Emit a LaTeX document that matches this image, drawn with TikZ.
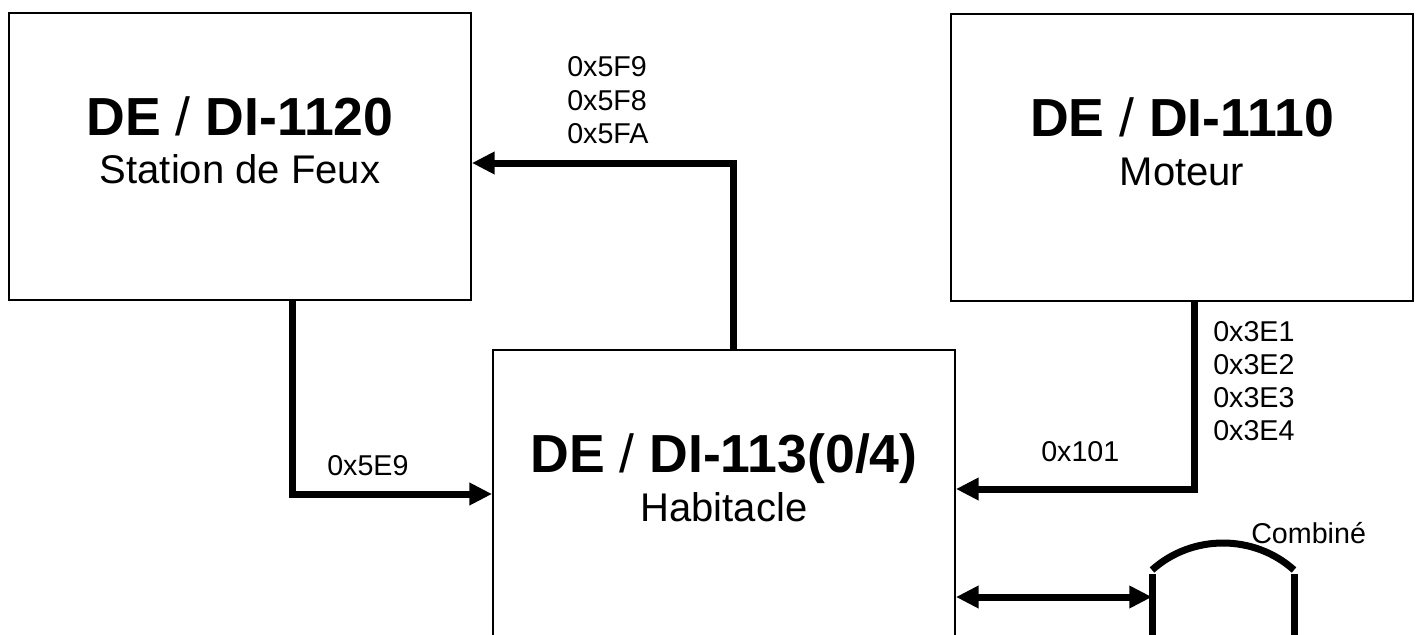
\documentclass[tikz,border=0pt]{standalone}
\usepackage{fontspec}
\setmainfont{Liberation Sans}
\usetikzlibrary{arrows.meta}
\begin{document}
\begin{tikzpicture}[x=0.75pt,y=-0.75pt,
  box/.style={draw=black, line width=1.4pt, inner sep=0pt,
    minimum width=346.5pt, minimum height=215.25pt},
  title/.style={anchor=base, inner sep=0pt, font=\fontsize{40.2pt}{44pt}\selectfont},
  sub/.style={anchor=base, inner sep=0pt, font=\fontsize{30pt}{34pt}\selectfont},
  lbl/.style={anchor=base west, inner sep=0pt, font=\fontsize{21.5pt}{25pt}\selectfont},
  conn/.style={line width=5.25pt, -{Triangle[length=17pt,width=16pt]}},
  dconn/.style={line width=5.25pt, {Triangle[length=17pt,width=16pt]}-{Triangle[length=17pt,width=16pt]}},
  thickline/.style={line width=5.25pt}]
\useasboundingbox (0,0) rectangle (1417,635);
\clip (0,0) rectangle (1417,635);
% boxes
\node[box] (A) at (240,156.5) {};
\node[box] (B) at (1182,157.5) {};
\node[box] (C) at (724,493.5) {};
% box texts
\node[title] (At) at (240,135) {\textbf{DE} / \textbf{DI-1120}};
\node[sub] (As) at (240,183) {Station de Feux};
\node[title] (Bt) at (1182,137) {\textbf{DE} / \textbf{DI-1110}};
\node[sub] (Bs) at (1182,185) {Moteur};
\node[title] (Ct) at (724,472) {\textbf{DE} / \textbf{DI-113(0/4)}};
\node[sub] (Cs) at (724,521) {Habitacle};
% helper coordinates
\coordinate (x1) at (733,0);
\coordinate (y1) at (0,163);
\coordinate (x2) at (292,0);
\coordinate (y2) at (0,494);
\coordinate (x3) at (1194,0);
\coordinate (y3) at (0,489);
% connectors
\draw[conn] (C.north -| x1) |- (A.east |- y1);
\draw[conn] (A.south -| x2) |- (C.west |- y2);
\draw[conn] (B.south -| x3) |- (C.east |- y3);
% Combine shape
\coordinate (DL) at (1152,597);
\draw[thickline] (1152,574) -- (1152,645);
\draw[thickline] (1294,574) -- (1294,645);
\draw[thickline] (1152,570) .. controls (1192,534) and (1254,534) .. (1294,570);
\draw[dconn] (C.east |- DL) -- (DL);
% labels
\node[lbl] (l1) at (567,77) {0x5F9};
\node[lbl] (l2) at (567,110) {0x5F8};
\node[lbl] (l3) at (567,143) {0x5FA};
\node[lbl] (l4) at (327,475) {0x5E9};
\node[lbl] (l5) at (1041,461) {0x101};
\node[lbl] (l6) at (1213,341) {0x3E1};
\node[lbl] (l7) at (1213,374) {0x3E2};
\node[lbl] (l8) at (1213,407) {0x3E3};
\node[lbl] (l9) at (1213,440) {0x3E4};
\node[lbl] (l10) at (1251,543) {Combiné};
\end{tikzpicture}
\end{document}
